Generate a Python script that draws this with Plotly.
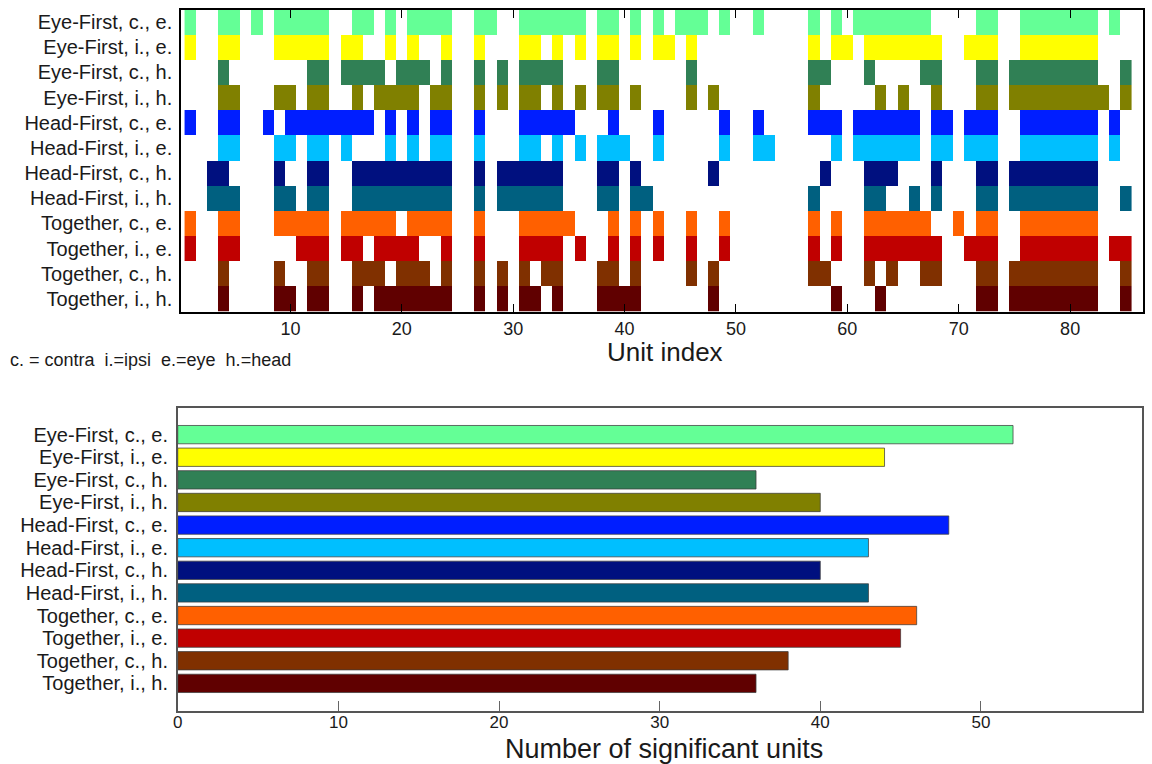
import plotly.graph_objects as go

# ---- data -----------------------------------------------------------------
condition_labels = [
    "Eye-First, c., e.", "Eye-First, i., e.", "Eye-First, c., h.", "Eye-First, i., h.",
    "Head-First, c., e.", "Head-First, i., e.", "Head-First, c., h.", "Head-First, i., h.",
    "Together, c., e.", "Together, i., e.", "Together, c., h.", "Together, i., h.",
]
condition_colors = [
    "#64FF96", "#FFFF00", "#308055", "#808000",
    "#001EFF", "#00BFFF", "#00107F", "#006080",
    "#FF6000", "#C00000", "#803000", "#600000",
]
n_units = 85

# significant unit indices per condition (top panel)
sig_ef_c_e = [1, 4, 5, 7, 9, 10, 11, 12, 13, 16, 17, 19, 21, 22, 23, 24, 27, 28, 31, 32, 33, 34, 35, 36,
              38, 39, 41, 43, 45, 46, 47, 49, 52, 57, 59, 61, 62, 63, 64, 65, 66, 67, 72, 73,
              76, 77, 78, 79, 80, 81, 82, 84]
sig_ef_i_e = [1, 4, 5, 9, 10, 11, 12, 13, 15, 16, 19, 21, 24, 27, 31, 32, 34, 36, 38, 39, 41, 43, 44, 46,
              57, 59, 60, 62, 63, 64, 65, 66, 67, 68, 71, 72, 73, 76, 77, 78, 79, 80, 81, 82]
sig_ef_c_h = [4, 12, 13, 15, 16, 17, 18, 20, 21, 22, 24, 27, 29, 31, 32, 33, 34, 38, 39, 46, 57, 58, 62,
              67, 68, 72, 73, 75, 76, 77, 78, 79, 80, 81, 82, 85]
sig_ef_i_h = [4, 5, 9, 10, 12, 13, 16, 18, 19, 20, 21, 23, 24, 27, 29, 31, 32, 34, 36, 38, 39, 41, 46, 48,
              57, 63, 65, 68, 72, 73, 75, 76, 77, 78, 79, 80, 81, 82, 83, 85]
sig_hf_c_e = [1, 4, 5, 8, 10, 11, 12, 13, 14, 15, 16, 17, 19, 21, 23, 24, 27, 31, 32, 33, 34, 35, 39, 43,
              49, 52, 57, 58, 59, 61, 62, 63, 64, 65, 66, 68, 69, 71, 72, 73, 76, 77, 78, 79, 80, 81, 82, 84]
sig_hf_i_e = [4, 5, 9, 10, 12, 13, 15, 19, 21, 23, 24, 27, 31, 32, 34, 36, 38, 39, 40, 43, 49, 52, 53,
              59, 61, 62, 63, 64, 65, 66, 68, 69, 71, 72, 73, 76, 77, 78, 79, 80, 81, 82, 84]
sig_hf_c_h = [3, 4, 9, 12, 13, 16, 17, 18, 19, 20, 21, 22, 23, 24, 27, 29, 30, 31, 32, 33, 34, 38, 39, 41,
              48, 58, 62, 63, 64, 68, 72, 73, 75, 76, 77, 78, 79, 80, 81, 82]
sig_hf_i_h = [3, 4, 5, 9, 10, 12, 13, 16, 17, 18, 19, 20, 21, 22, 23, 24, 27, 29, 30, 31, 32, 33, 34, 38,
              39, 41, 42, 57, 62, 63, 66, 68, 72, 73, 75, 76, 77, 78, 79, 80, 81, 82, 85]
sig_tg_c_e = [1, 4, 5, 9, 10, 11, 12, 13, 15, 16, 17, 18, 19, 21, 22, 23, 24, 27, 31, 32, 33, 34, 35, 39,
              41, 43, 46, 49, 57, 59, 62, 63, 64, 65, 66, 67, 70, 72, 73, 76, 77, 78, 79, 80, 81, 82]
sig_tg_i_e = [1, 4, 5, 11, 12, 13, 15, 16, 18, 19, 20, 21, 24, 27, 31, 32, 33, 34, 36, 39, 41, 43, 46, 49,
              57, 59, 62, 63, 64, 65, 66, 67, 68, 71, 72, 73, 76, 77, 78, 79, 80, 81, 82, 84, 85]
sig_tg_c_h = [4, 9, 12, 13, 16, 17, 18, 20, 21, 22, 24, 27, 29, 31, 33, 34, 38, 39, 41, 46, 48, 57, 58,
              62, 64, 67, 68, 72, 73, 75, 76, 77, 78, 79, 80, 81, 82, 85]
sig_tg_i_h = [4, 9, 10, 12, 13, 16, 18, 19, 20, 21, 22, 23, 24, 27, 29, 31, 32, 34, 38, 39, 40, 41, 48,
              59, 63, 72, 73, 75, 76, 77, 78, 79, 80, 81, 82, 85]

sig_lists = [sig_ef_c_e, sig_ef_i_e, sig_ef_c_h, sig_ef_i_h,
             sig_hf_c_e, sig_hf_i_e, sig_hf_c_h, sig_hf_i_h,
             sig_tg_c_e, sig_tg_i_e, sig_tg_c_h, sig_tg_i_h]

# number of significant units per condition (bottom panel)
n_significant = [52, 44, 36, 40, 48, 43, 40, 43, 46, 45, 38, 36]

top_ticks = [10, 20, 30, 40, 50, 60, 70, 80]
bottom_ticks = [0, 10, 20, 30, 40, 50]

# ---- figure ---------------------------------------------------------------
W, H = 1152, 764
FONT = "Liberation Sans, Arial, Helvetica, sans-serif"
TXT = "#1a1a1a"

units = list(range(1, n_units + 1))
rows = list(range(len(condition_labels)))
z = [[r if u in set(sig_lists[r]) else None for u in units] for r in rows]

n = len(condition_colors)
cscale = []
for i, c in enumerate(condition_colors):
    cscale.append([i / n, c])
    cscale.append([(i + 1) / n, c])

fig = go.Figure()
fig.add_trace(go.Heatmap(
    z=z, x=units, y=rows, colorscale=cscale, zmin=-0.5, zmax=n - 0.5,
    showscale=False, hoverinfo="skip", xaxis="x", yaxis="y",
))
fig.add_trace(go.Bar(
    x=n_significant, y=rows, orientation="h", width=0.81,
    marker=dict(color=condition_colors, line=dict(color="rgba(60,60,60,0.75)", width=1)),
    xaxis="x2", yaxis="y2", hoverinfo="skip",
))


def px_x(p):
    return p / W


def px_y(p):
    return 1 - p / H


fig.update_layout(
    width=W, height=H,
    margin=dict(l=0, r=0, t=0, b=0),
    paper_bgcolor="white", plot_bgcolor="white",
    showlegend=False,
    font=dict(family=FONT, color=TXT),
    xaxis=dict(
        domain=[px_x(177), px_x(1142.5)], range=[0.2, 86.5], anchor="y",
        tickvals=top_ticks, ticks="inside", ticklen=8, tickcolor="black", tickwidth=1,
        showline=True, linecolor="black", linewidth=2, mirror="ticks",
        showgrid=False, zeroline=False, tickfont=dict(size=18, color=TXT),
    ),
    yaxis=dict(
        domain=[px_y(311.5), px_y(9.5)], range=[11.5, -0.5], anchor="x",
        tickvals=rows, ticktext=condition_labels, ticks="",
        showline=True, linecolor="black", linewidth=2, mirror=True,
        showgrid=False, zeroline=False, tickfont=dict(size=20, color=TXT),
        ticklabelstandoff=3,
    ),
    xaxis2=dict(
        domain=[px_x(173.5), px_x(1141.5)], range=[0, 60], anchor="y2",
        tickvals=bottom_ticks, ticks="inside", ticklen=10, tickcolor="#666", tickwidth=1,
        showline=True, linecolor="#555", linewidth=1.5, mirror=True,
        showgrid=False, zeroline=False, tickfont=dict(size=17, color=TXT),
        ticklabelstandoff=-5,
    ),
    yaxis2=dict(
        domain=[px_y(710.5), px_y(407.5)], range=[12.2, -1.2], anchor="x2",
        tickvals=rows, ticktext=condition_labels, ticks="",
        showline=True, linecolor="#555", linewidth=1.5, mirror=True,
        showgrid=False, zeroline=False, tickfont=dict(size=20, color=TXT),
        ticklabelstandoff=4,
    ),
    annotations=[
        dict(text="Unit index", x=px_x(663), y=px_y(352), xref="paper", yref="paper",
             xanchor="center", yanchor="middle", showarrow=False,
             font=dict(size=26, color=TXT, family=FONT)),
        dict(text="Number of significant units", x=px_x(662), y=px_y(749), xref="paper", yref="paper",
             xanchor="center", yanchor="middle", showarrow=False,
             font=dict(size=27, color=TXT, family=FONT)),
        dict(text="c. = contra  i.=ipsi  e.=eye  h.=head", x=px_x(3), y=px_y(360),
             xref="paper", yref="paper", xanchor="left", yanchor="middle", showarrow=False,
             font=dict(size=18, color=TXT, family=FONT)),
    ],
)

fig.write_html("out.html")
